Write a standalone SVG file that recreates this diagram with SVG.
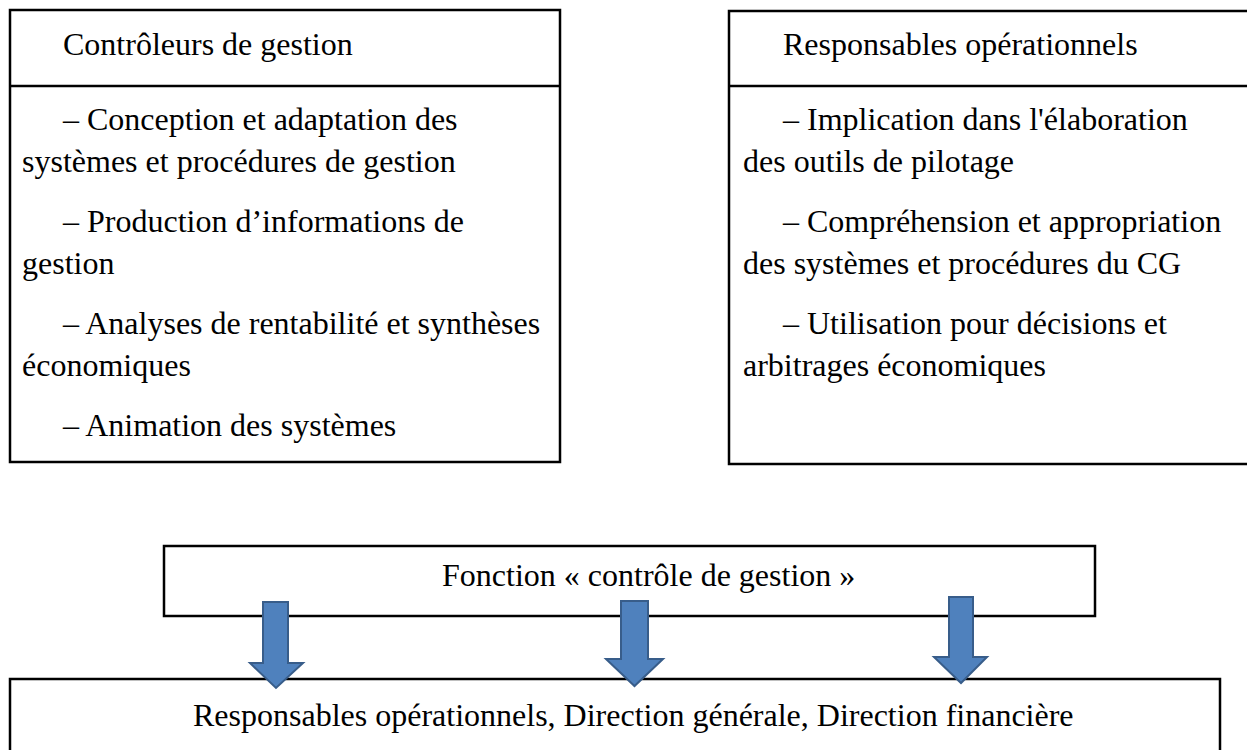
<svg xmlns="http://www.w3.org/2000/svg" width="1247" height="750" viewBox="0 0 1247 750">
<style>
.box{fill:#fff;stroke:#000;stroke-width:2.5}
.div{stroke:#000;stroke-width:2.5}
.t{font-family:"Liberation Serif","Times New Roman",serif;font-size:32px;fill:#000}
.arr{fill:#4F81BD;stroke:#385D8A;stroke-width:2;stroke-linejoin:miter}
</style>
<rect width="1247" height="750" fill="#fff"/>
<g id="controleurs">
<rect class="box" x="10" y="10" width="550" height="452"/>
<line class="div" x1="10" y1="86" x2="560" y2="86"/>
<text class="t" x="63" y="55">Contrôleurs de gestion</text>
<text class="t" x="63" y="130">– Conception et adaptation des</text>
<text class="t" x="22" y="172">systèmes et procédures de gestion</text>
<text class="t" x="63" y="232">– Production d’informations de</text>
<text class="t" x="22" y="274">gestion</text>
<text class="t" x="63" y="334">– Analyses de rentabilité et synthèses</text>
<text class="t" x="22" y="376">économiques</text>
<text class="t" x="63" y="436">– Animation des systèmes</text>
</g>
<g id="responsables">
<rect class="box" x="729" y="11" width="530" height="453"/>
<line class="div" x1="729" y1="86" x2="1259" y2="86"/>
<text class="t" x="783" y="55">Responsables opérationnels</text>
<text class="t" x="783" y="130">– Implication dans l'élaboration</text>
<text class="t" x="743" y="172">des outils de pilotage</text>
<text class="t" x="783" y="232">– Compréhension et appropriation</text>
<text class="t" x="743" y="274">des systèmes et procédures du CG</text>
<text class="t" x="783" y="334">– Utilisation pour décisions et</text>
<text class="t" x="743" y="376">arbitrages économiques</text>
</g>
<g id="fonction">
<rect class="box" x="164" y="546" width="931" height="70"/>
<text class="t" x="442" y="586">Fonction « contrôle de gestion »</text>
</g>
<g id="destinataires">
<rect class="box" x="10" y="679" width="1210" height="90"/>
<text class="t" x="193" y="726">Responsables opérationnels, Direction générale, Direction financière</text>
</g>
<g id="connectors">
<polygon class="arr" points="263,602 288,602 288,663 303,663 276,688 250,663 263,663"/>
<polygon class="arr" points="621,601 648,601 648,659 663,659 634.5,686 606,659 621,659"/>
<polygon class="arr" points="949,597 973,597 973,657 987,657 961,683 934,657 949,657"/>
</g>
</svg>
